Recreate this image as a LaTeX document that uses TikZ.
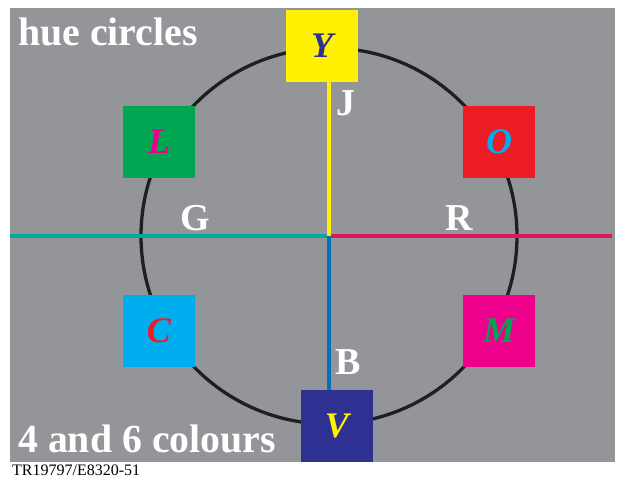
\documentclass[tikz,border=0pt]{standalone}
\usepackage{fontspec}
\setmainfont{Liberation Serif}
\usepackage{xcolor}
\usepackage{tikz}
\usetikzlibrary{positioning}

\definecolor{bggray}{RGB}{147,149,152}
\definecolor{hueyellow}{RGB}{255,242,0}
\definecolor{huenavy}{RGB}{46,49,146}
\definecolor{huegreen}{RGB}{0,166,81}
\definecolor{huemagenta}{RGB}{236,0,140}
\definecolor{huered}{RGB}{237,28,36}
\definecolor{huecyan}{RGB}{0,174,239}
\definecolor{lineteal}{RGB}{0,169,157}
\definecolor{linecrimson}{RGB}{218,24,90}
\definecolor{lineblue}{RGB}{0,114,188}

\begin{document}
\begin{tikzpicture}[x=1pt, y=-1pt,
  huebox/.style={minimum size=72pt, inner sep=0pt, font=\fontsize{36}{36}\selectfont\bfseries\itshape},
  axislbl/.style={text=white, inner sep=0pt, font=\fontsize{38}{38}\selectfont\bfseries},
  headline/.style={text=white, inner sep=0pt, anchor=base west, font=\fontsize{39.8}{39.8}\selectfont\bfseries},
  axis/.style={line width=4pt}]
  \useasboundingbox (0,0) rectangle (621,479);
  \fill[bggray] (10,8) rectangle (615,462);
  \coordinate (ctr) at (329,236);
  \coordinate (west) at (10,236);
  \coordinate (east) at (612,236);
  \draw[line width=3.3pt, black!88] (ctr) circle[radius=188];
  % colour squares
  \node[huebox, fill=hueyellow, text=huenavy] (Y) at (322,45.5) {Y};
  \node[huebox, fill=huenavy, text=hueyellow] (V) at (337,426) {V};
  \node[huebox, fill=huegreen, text=huemagenta] (L) at (159,142) {L};
  \node[huebox, fill=huered, text=huecyan] (O) at (499,142) {O};
  \node[huebox, fill=huecyan, text=huered] (C) at (159,331) {C};
  \node[huebox, fill=huemagenta, text=huegreen] (M) at (499,331) {M};
  % axes
  \draw[axis, lineteal] (west) -- (ctr);
  \draw[axis, linecrimson] (ctr) -- (east);
  \draw[axis, hueyellow] (Y.south -| ctr) -- (ctr);
  \draw[axis, lineblue] (ctr) -- (V.north -| ctr);
  \node[axislbl] (J) at (346,103) {J};
  \node[axislbl] (G) at (195,218) {G};
  \node[axislbl] (R) at (459,218) {R};
  \node[axislbl] (B) at (348,362) {B};
  % texts
  \node[headline] (title) at (18,45) {hue circles};
  \node[headline] (count) at (18,452) {4 and 6 colours};
  \node[anchor=base west, inner sep=0pt, font=\fontsize{16}{16}\selectfont] (ref) at (12,475) {TR19797/E8320-51};
\end{tikzpicture}
\end{document}
